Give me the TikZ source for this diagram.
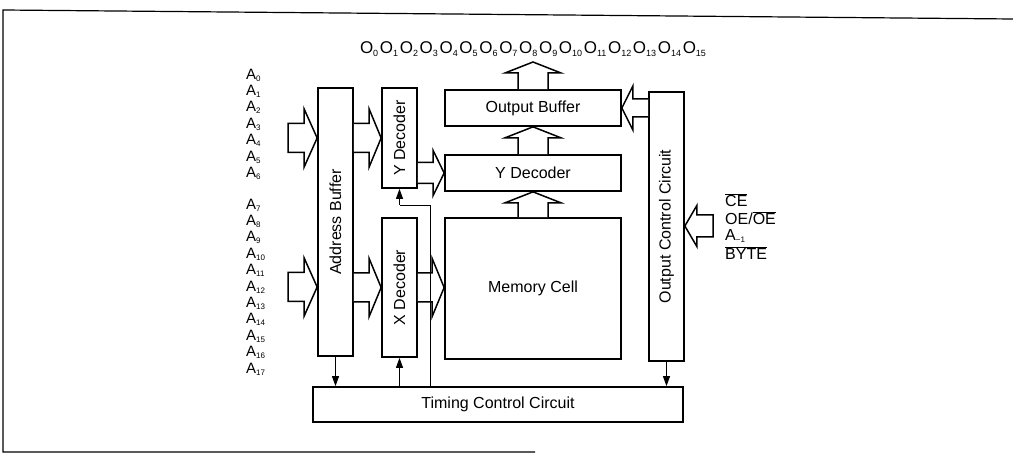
\documentclass[tikz,border=0pt]{standalone}
\usepackage{fontspec}
\setmainfont{Liberation Sans}
\usetikzlibrary{calc,arrows.meta}

\newcommand\lblfont{\fontsize{16}{19}\selectfont}
\newcommand\sub[1]{\raisebox{-0.25ex}{\fontsize{8}{8}\selectfont #1}}
\newcommand\osub[1]{\raisebox{-0.25ex}{\fontsize{9}{9}\selectfont #1}}
\newcommand\ovl[1]{$\overline{\hbox{#1}}$}

% block arrow, open at its base
\newcommand\barrow[5]{%
  \coordinate (ba-s) at (#1); \coordinate (ba-t) at (#2);
  \coordinate (ba-b) at ($(ba-t)!#5!(ba-s)$);
  \draw[bigarrow] ($(ba-s)!#3!90:(ba-t)$) -- ($(ba-b)!#3!90:(ba-t)$) -- ($(ba-b)!#4!90:(ba-t)$)
     -- (ba-t) -- ($(ba-b)!#4!-90:(ba-t)$) -- ($(ba-b)!#3!-90:(ba-t)$) -- ($(ba-s)!#3!-90:(ba-t)$);}
% block arrow, closed at its base
\newcommand\barrowc[5]{%
  \coordinate (ba-s) at (#1); \coordinate (ba-t) at (#2);
  \coordinate (ba-b) at ($(ba-t)!#5!(ba-s)$);
  \draw[bigarrow] ($(ba-s)!#3!90:(ba-t)$) -- ($(ba-b)!#3!90:(ba-t)$) -- ($(ba-b)!#4!90:(ba-t)$)
     -- (ba-t) -- ($(ba-b)!#4!-90:(ba-t)$) -- ($(ba-b)!#3!-90:(ba-t)$) -- ($(ba-s)!#3!-90:(ba-t)$) -- cycle;}

\begin{document}
\begin{tikzpicture}[x=1pt,y=-1pt,
  box/.style={draw, line width=1.7pt, inner sep=0pt, font=\lblfont},
  bigarrow/.style={line width=1.5pt, line join=miter, fill=white},
  sarrow/.style={line width=0.9pt, -{Triangle[length=10pt,width=7pt]}},
  thinline/.style={line width=0.8pt},
  alabel/.style={anchor=west, inner sep=0pt, font=\fontsize{15}{17}\selectfont},
  rlabel/.style={anchor=west, inner sep=0pt, font=\lblfont},
  frame/.style={line width=1.2pt}]
\useasboundingbox (0,0) rectangle (1013,457);

\draw[frame] (1013,19) -- (3,10) -- (3,452) -- (535,452);

% boxes
\node[box, minimum width=35pt, minimum height=268pt] (addr) at (335.5,222) {\rotatebox{90}{Address Buffer}};
\node[box, minimum width=35pt, minimum height=100pt] (ydecV) at (399.5,138) {\rotatebox{90}{Y Decoder}};
\node[box, minimum width=35pt, minimum height=139pt] (xdec) at (399.5,287.5) {\rotatebox{90}{X Decoder}};
\node[box, minimum width=176pt, minimum height=36pt] (obuf) at (533,108) {Output Buffer};
\node[box, minimum width=176pt, minimum height=36pt] (ydecH) at (533,173) {Y Decoder};
\node[box, minimum width=176pt, minimum height=141pt] (mem) at (533,288.5) {Memory Cell};
\node[box, minimum width=35pt, minimum height=269pt] (occ) at (666.5,226.5) {\rotatebox{90}{Output Control Circuit}};
\node[box, minimum width=370pt, minimum height=35pt] (tcc) at (498,404.5) {Timing Control Circuit};

% output label
\node[inner sep=0pt, font=\fontsize{17}{19}\selectfont] (outs) at (533,49)
  {\makebox[346pt][s]{O\osub{0}\hfill O\osub{1}\hfill O\osub{2}\hfill O\osub{3}\hfill O\osub{4}\hfill O\osub{5}\hfill O\osub{6}\hfill O\osub{7}\hfill O\osub{8}\hfill O\osub{9}\hfill O\osub{10}\hfill O\osub{11}\hfill O\osub{12}\hfill O\osub{13}\hfill O\osub{14}\hfill O\osub{15}}};

% address labels
\foreach \i in {0,...,6} \node[alabel] (a\i) at (246,{75+16.4*\i}) {A\sub{\i}};
\foreach \i in {7,...,17} \node[alabel] (a\i) at (246,{205+16.4*(\i-7)}) {A\sub{\i}};

% control labels
\node[rlabel] (ce) at (725,200) {\ovl{CE}};
\node[rlabel] (oe) at (725,218) {OE/\ovl{OE}};
\node[rlabel] (am) at (725,236) {A\sub{−1}};
\node[rlabel] (byte) at (725,253) {\ovl{BYTE}};

% block arrows
\coordinate (outtop) at (533,62);
\barrow{obuf.north}{outtop}{15pt}{28pt}{11pt}
\barrow{ydecH.north}{obuf.south}{15pt}{28pt}{11pt}
\barrow{mem.north}{ydecH.south}{15pt}{28pt}{11pt}
\coordinate (in1) at (288,138);
\coordinate (in2) at (288,287);
\barrowc{in1}{addr.west |- in1}{14.5pt}{29pt}{13pt}
\barrowc{in2}{addr.west |- in2}{14.5pt}{29pt}{13pt}
\barrow{addr.east |- ydecV.west}{ydecV.west}{14.5pt}{29pt}{12pt}
\barrow{addr.east |- xdec.west}{xdec.west}{14.5pt}{29pt}{12pt}
\barrow{ydecV.east |- ydecH.west}{ydecH.west}{10.5pt}{22.5pt}{11pt}
\barrow{xdec.east}{mem.west |- xdec.east}{14.5pt}{29pt}{12pt}
\barrow{occ.west |- obuf.east}{obuf.east}{9pt}{22pt}{11pt}
\coordinate (in3) at (713,226);
\barrowc{in3}{occ.east |- in3}{11pt}{20.5pt}{12pt}

% small arrows
\draw[sarrow] (addr.south) -- (addr.south |- tcc.north);
\draw[sarrow] (xdec.south |- tcc.north) -- (xdec.south);
\draw[sarrow] (occ.south) -- (occ.south |- tcc.north);
\coordinate (tl1) at (430,205);
\draw[thinline] (tl1 |- tcc.north) -- (tl1) -- (tl1 -| ydecV.south);
\draw[sarrow] (tl1 -| ydecV.south) -- (ydecV.south);
\end{tikzpicture}
\end{document}
